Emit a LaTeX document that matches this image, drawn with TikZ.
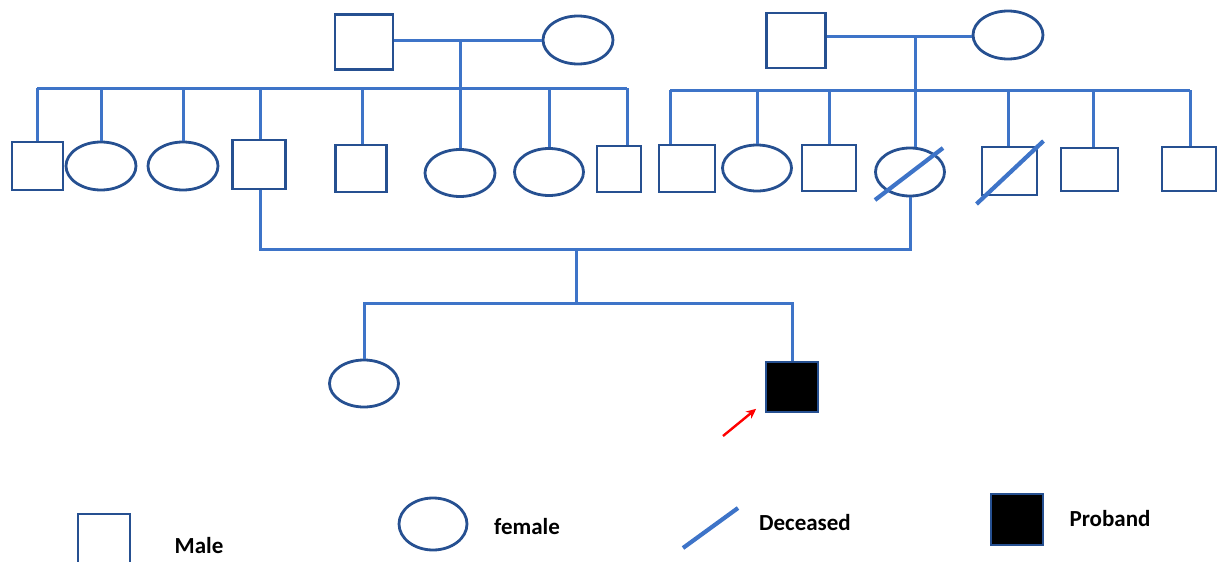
\documentclass[tikz,border=0pt]{standalone}
\usepackage{fontspec}
\setmainfont{Carlito}
\usetikzlibrary{shapes.geometric,arrows.meta}
\definecolor{nodeblue}{RGB}{38,80,145}
\definecolor{lineblue}{RGB}{62,116,200}
\tikzset{
  male/.style={rectangle,draw=nodeblue,line width=2.8pt,inner sep=0pt},
  female/.style={ellipse,draw=nodeblue,line width=2.8pt,inner sep=0pt,minimum width=69pt,minimum height=47pt},
  link/.style={draw=lineblue,line width=3pt},
  slash/.style={draw=lineblue,line width=4.2pt},
  proband/.style={rectangle,draw=nodeblue,fill=black,line width=1.6pt,inner sep=0pt},
  legtext/.style={font=\fontsize{23}{26}\selectfont\bfseries,inner sep=0pt,text=black},
  redarrow/.style={draw=red,line width=2.4pt,-{Stealth[length=10pt,width=9pt]}}
}
\begin{document}
\begin{tikzpicture}[x=1pt,y=-1pt]
\useasboundingbox (0,0) rectangle (1218,562);
% ---- left grandparents
\node[male,minimum width=58pt,minimum height=55pt] (gf1) at (364,42) {};
\node[female,minimum width=70pt,minimum height=48pt] (gm1) at (578,40) {};
\coordinate (m1) at (460,40);
\coordinate (sibL1) at (37,88);
\coordinate (sibL2) at (627,88);
% ---- left children
\node[male,minimum width=51pt,minimum height=48pt] (c1) at (37.5,166) {};
\node[female,minimum width=70pt,minimum height=48pt] (c2) at (101,166) {};
\node[female,minimum width=70pt,minimum height=48pt] (c3) at (183,166) {};
\node[male,minimum width=53pt,minimum height=49pt] (c4) at (259,164.5) {};
\node[male,minimum width=51pt,minimum height=47pt] (c5) at (361,168.5) {};
\node[female,minimum width=70pt,minimum height=47pt] (c6) at (460,173) {};
\node[female,minimum width=69pt,minimum height=47pt] (c7) at (549,172) {};
\node[male,minimum width=44pt,minimum height=46pt] (c8) at (619,169) {};
% ---- right grandparents
\node[male,minimum width=59pt,minimum height=55pt] (gf2) at (796,40.5) {};
\node[female,minimum width=70pt,minimum height=48pt] (gm2) at (1008,35) {};
\coordinate (m2) at (915,36);
\coordinate (sibR1) at (670,90);
\coordinate (sibR2) at (1190,90);
% ---- right children
\node[male,minimum width=56pt,minimum height=47pt] (r1) at (687,168.5) {};
\node[female,minimum width=69pt,minimum height=46pt] (r2) at (757,168) {};
\node[male,minimum width=54pt,minimum height=46pt] (r3) at (829,168) {};
\node[female,minimum width=69pt,minimum height=48pt] (r4) at (910,172) {};
\node[male,minimum width=55pt,minimum height=48pt] (r5) at (1009.5,171) {};
\node[male,minimum width=57pt,minimum height=43pt] (r6) at (1089.5,169.5) {};
\node[male,minimum width=54pt,minimum height=44pt] (r7) at (1189,169) {};
% ---- third generation
\coordinate (mar) at (576,249);
\coordinate (sib3) at (576,303);
\node[female,minimum width=69pt,minimum height=47pt] (d1) at (364,383.5) {};
\node[proband,minimum width=52pt,minimum height=50pt] (p1) at (792,387) {};
\coordinate (arrtail) at (723,436);
% ---- connectors
\draw[link] (gm1.west -| gf1.east) -- (gm1.west);
\draw[link] (m1) -- (m1 |- sibL1);
\draw[link] (sibL1) -- (sibL2);
\draw[link] (c1.north) -- (c1.north |- sibL1);
\draw[link] (c2.north) -- (c2.north |- sibL1);
\draw[link] (c3.north) -- (c3.north |- sibL1);
\draw[link] ([xshift=1pt]c4.north) -- ([xshift=1pt]c4.north |- sibL1);
\draw[link] ([xshift=1pt]c5.north) -- ([xshift=1pt]c5.north |- sibL1);
\draw[link] (c6.north) -- (c6.north |- sibL1);
\draw[link] (c7.north) -- (c7.north |- sibL1);
\draw[link] ([xshift=8pt]c8.north) -- (sibL2);
\draw[link] (m2 -| gf2.east) -- (m2 -| gm2.west);
\draw[link] (m2) -- (m2 |- sibR1);
\draw[link] (sibR1) -- (sibR2);
\draw[link] ([xshift=-17pt]r1.north) -- (sibR1);
\draw[link] (r2.north) -- (r2.north |- sibR1);
\draw[link] (r3.north) -- (r3.north |- sibR1);
\draw[link] ([xshift=5pt]r4.north) -- ([xshift=5pt]r4.north |- sibR1);
\draw[link] ([xshift=-1pt]r5.north) -- ([xshift=-1pt]r5.north |- sibR1);
\draw[link] ([xshift=3.5pt]r6.north) -- ([xshift=3.5pt]r6.north |- sibR1);
\draw[link] ([xshift=1pt]r7.north) -- (sibR2);
\draw[link] ([xshift=1pt]c4.south) |- (mar) -| (r4.south);
\draw[link] (mar) -- (sib3);
\draw[link] (d1.north) |- (sib3) -| (p1.north);
% ---- deceased slashes (explicit pt shifts are in canvas units: +y is up)
\draw[slash] ([shift={(-35pt,-28pt)}]r4.center) -- ([shift={(33pt,24pt)}]r4.center);
\draw[slash] ([shift={(-33pt,-33pt)}]r5.center) -- ([shift={(34pt,30pt)}]r5.center);
% ---- proband arrow
\draw[redarrow] (arrtail) -- ([shift={(-9pt,4pt)}]p1.south west);
% ---- legend
\node[male,minimum width=52pt,minimum height=54pt] (lm) at (104,541) {};
\node[legtext] (lmt) at (199,546) {Male};
\node[female,minimum width=68pt,minimum height=52pt] (lf) at (433,524) {};
\node[legtext] (lft) at (527,527) {female};
\coordinate (ld1) at (683,548);
\coordinate (ld2) at (738,508);
\draw[slash] (ld1) -- (ld2);
\node[legtext] (ldt) at (805,523) {Deceased};
\node[proband,minimum width=52pt,minimum height=51pt] (lp) at (1017,519.5) {};
\node[legtext] (lpt) at (1110,519) {Proband};
\end{tikzpicture}
\end{document}
